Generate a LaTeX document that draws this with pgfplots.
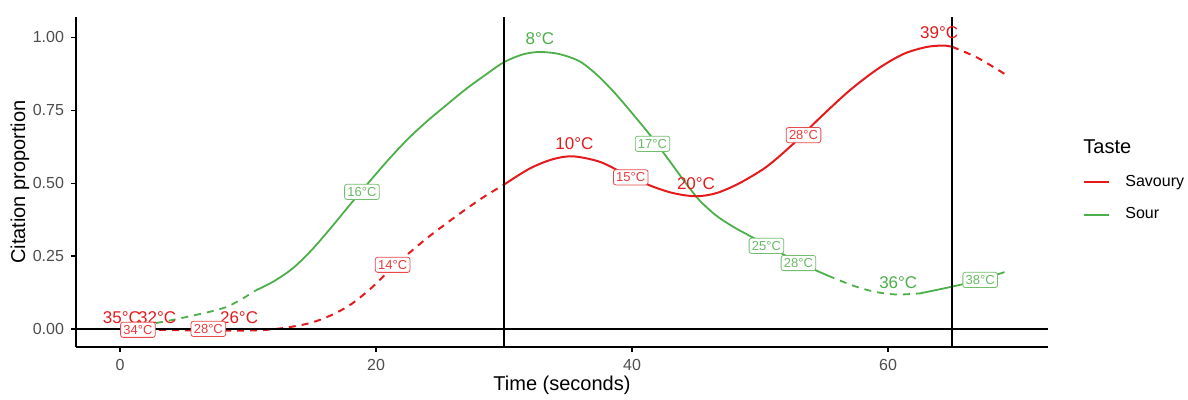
\documentclass[border=0pt]{standalone}
\usepackage{pgfplots}
\pgfplotsset{compat=1.18}
\usepackage{fontspec}
\setmainfont{Liberation Sans}
\definecolor{sav}{HTML}{E41A1C}
\definecolor{sou}{HTML}{4DAF4A}
\definecolor{tickgray}{HTML}{4D4D4D}
\tikzset{
  big/.style={font=\fontsize{8.5}{10}\selectfont, inner sep=0pt},
  box/.style={font=\fontsize{6.5}{7.5}\selectfont, draw, fill=white, rounded corners=1.2pt,
    inner xsep=1.4pt, inner ysep=1.4pt, text height=4.7pt, text depth=0.1pt, line width=0.4pt},
  dsh/.style={dash pattern=on 3.5pt off 3pt}
}
\begin{document}
\begin{tikzpicture}
\useasboundingbox (-38pt,-26.5pt) rectangle (556pt,173.5pt);
\begin{axis}[
  scale only axis, width=486pt, height=165pt,
  xmin=-3.44, xmax=72.5, ymin=-0.062, ymax=1.07,
  axis x line*=bottom, axis y line*=left,
  axis line style={line width=0.6pt, -},
  xtick={0,20,40,60}, ytick={0,0.25,0.5,0.75,1},
  tick align=outside, major tick length=2.5pt,
  tick style={line width=0.6pt, black},
  tick label style={font=\fontsize{8}{9}\selectfont, text=tickgray},
  y tick label style={/pgf/number format/.cd, fixed, fixed zerofill, precision=2, /tikz/.cd},
  /pgf/number format/assume math mode=true,
  xlabel={Time (seconds)}, ylabel={Citation proportion},
  label style={font=\fontsize{10}{12}\selectfont},
  xlabel style={at={(axis description cs:0.5,-0.117)}, anchor=center},
  ylabel style={at={(axis description cs:-0.0576,0.5)}, anchor=center},
  clip=false,
  legend style={at={(axis description cs:1.036,0.45)}, anchor=west, draw=none, fill=none,
    inner sep=0pt, font=\fontsize{8}{9}\selectfont, row sep=8.5pt, column sep=7.5pt,
    nodes={inner sep=0pt, text height=6pt, text depth=1.8pt}},
  legend cell align=left,
  legend image code/.code={\draw[#1] (0pt,0pt) -- (12.5pt,0pt);},
]
\addlegendimage{sav, line width=1pt}\addlegendentry{Savoury}
\addlegendimage{sou, line width=1pt}\addlegendentry{Sour}

% Sour
\addplot[sou, line width=0.9pt, dsh, smooth, forget plot] coordinates {
 (0.8,0.005) (2.8,0.02) (5.2,0.041) (8.3,0.075) (10.6,0.132)};
\addplot[sou, line width=0.9pt, smooth, forget plot] coordinates {
 (10.6,0.132) (12,0.163) (13.5,0.208) (15,0.272) (16.5,0.348) (18,0.428) (19.5,0.506)
 (21,0.582) (22.5,0.652) (24,0.713) (25.5,0.768) (27,0.822) (28.5,0.87) (30,0.915)
 (31.5,0.942) (32.8,0.95) (34.3,0.943) (35.9,0.918) (37.3,0.87) (38.7,0.807) (40.1,0.735)
 (41.5,0.66) (42.9,0.578) (44.2,0.5) (45.3,0.44) (46.6,0.388) (48,0.348) (49.5,0.312)
 (51,0.275) (52.5,0.24) (54,0.208) (55.3,0.183)};
\addplot[sou, line width=0.9pt, dsh, smooth, forget plot] coordinates {
 (55.3,0.183) (57.3,0.148) (59,0.127) (60.7,0.118) (62.5,0.122)};
\addplot[sou, line width=0.9pt, smooth, forget plot] coordinates {
 (62.5,0.122) (65,0.145) (67.2,0.168) (69.1,0.195)};

% Savoury
\addplot[sav, line width=1pt, dsh, smooth, forget plot] coordinates {
 (0,0.0) (4,-0.004) (8,-0.006) (10.5,-0.005) (12,-0.001) (13.5,0.008) (15,0.022)
 (16.5,0.047) (18,0.083) (19.5,0.135) (21,0.198) (22.5,0.257) (24,0.312) (25.5,0.362)
 (27,0.41) (28.5,0.455) (30,0.495)};
\addplot[sav, line width=1pt, smooth, forget plot] coordinates {
 (30,0.495) (32,0.55) (33.8,0.582) (35.4,0.592) (37.5,0.573) (39.5,0.53) (41.4,0.492)
 (43.2,0.466) (45,0.455) (46.6,0.466) (48.4,0.50) (50.5,0.556) (52.6,0.635) (54.7,0.725)
 (57,0.818) (59.2,0.892) (61.2,0.943) (63,0.967) (64.3,0.972) (65,0.968)};
\addplot[sav, line width=1pt, dsh, smooth, forget plot] coordinates {
 (65,0.968) (67,0.93) (69.1,0.875)};

% reference lines
\addplot[black, line width=0.9pt, forget plot] coordinates {(-3.44,0) (72.5,0)};
\addplot[black, line width=0.9pt, forget plot] coordinates {(30,-0.062) (30,1.07)};
\addplot[black, line width=0.9pt, forget plot] coordinates {(65,-0.062) (65,1.07)};

% big labels
\node[big, text=sav] at (axis cs:0.15,0.04) {35°C};
\node[big, text=sav] at (axis cs:2.9,0.04) {32°C};
\node[big, text=sav] at (axis cs:9.3,0.038) {26°C};
\node[big, text=sou] at (axis cs:32.8,0.995) {8°C};
\node[big, text=sav] at (axis cs:35.5,0.635) {10°C};
\node[big, text=sav] at (axis cs:45,0.497) {20°C};
\node[big, text=sou] at (axis cs:60.8,0.158) {36°C};
\node[big, text=sav] at (axis cs:64,1.015) {39°C};

% boxed labels
\node[box, draw=sav!80, text=sav!85] at (axis cs:1.4,-0.003) {34°C};
\node[box, draw=sav!80, text=sav!85] at (axis cs:6.9,0.0) {28°C};
\node[box, draw=sav!80, text=sav!85] at (axis cs:21.3,0.22) {14°C};
\node[box, draw=sou!80, text=sou!85] at (axis cs:18.9,0.47) {16°C};
\node[box, draw=sou!80, text=sou!85] at (axis cs:41.6,0.635) {17°C};
\node[box, draw=sav!80, text=sav!85] at (axis cs:39.9,0.52) {15°C};
\node[box, draw=sav!80, text=sav!85] at (axis cs:53.4,0.665) {28°C};
\node[box, draw=sou!80, text=sou!85] at (axis cs:50.5,0.285) {25°C};
\node[box, draw=sou!80, text=sou!85] at (axis cs:53,0.226) {28°C};
\node[box, draw=sou!80, text=sou!85] at (axis cs:67.2,0.168) {38°C};

\node[anchor=west, font=\fontsize{10}{12}\selectfont, inner sep=0pt] at (axis description cs:1.036,0.606) {Taste};
\end{axis}
\end{tikzpicture}
\end{document}
